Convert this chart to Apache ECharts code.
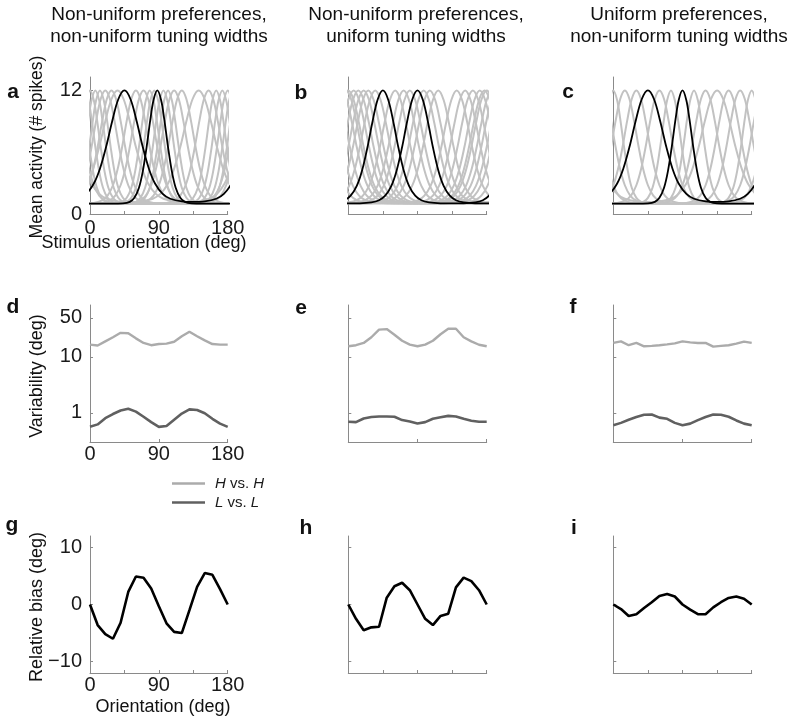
<!DOCTYPE html>
<html><head><meta charset="utf-8">
<script src="https://cdn.jsdelivr.net/npm/echarts@6/dist/echarts.min.js"></script>
<style>html,body{margin:0;padding:0;background:#fff}#c{width:800px;height:723px}</style>
</head><body><div id="c"></div>
<script>
// ---------------- DATA ----------------
// tuning-curve profiles (offset from preferred orientation, deg -> mean spikes)
const profNarrowOff = [0, 5, 9, 14, 19, 24, 30, 36, 45, 60, 90];
const profNarrowVal = [12, 11.05, 9.23, 6.5, 4.14, 2.55, 1.57, 1.18, 1.03, 1.0, 1.0];
const profMidOff = [0, 6, 12, 18, 24, 30, 37, 45, 55, 70, 90];
const profMidVal = [12, 11.16, 9.04, 6.5, 4.31, 2.79, 1.79, 1.29, 1.08, 1.02, 1.01];
const profUniOff = [0, 7, 14, 20, 27, 34, 42, 50, 60, 75, 90];
const profUniVal = [12, 11.07, 8.78, 6.5, 4.25, 2.73, 1.78, 1.34, 1.13, 1.04, 1.03];
const profWideOff = [0, 8, 16, 24, 32, 40, 50, 60, 75, 90];
const profWideVal = [12, 11.14, 9.0, 6.5, 4.4, 2.96, 1.95, 1.48, 1.22, 1.17];

// panel a: non-uniform preferences, non-uniform widths
const prefA  = [0, 7, 13, 20, 28, 36, 60, 70, 78, 84, 96, 102, 110, 120, 142, 155, 165, 173];
const widthA = ['N','N','N','M','M','W','M','M','N','N','N','N','M','M','W','M','N','N'];
const blackPrefA = [45, 88];
const blackWidthA = ['W','N'];
// panel b: non-uniform preferences, uniform widths
const prefB  = [0, 7, 13, 20, 26, 35, 61, 72, 80, 98, 106, 117, 141, 152, 162, 171, 177];
const blackPrefB = [45, 90];
// panel c: uniform preferences, non-uniform widths
const prefC  = [0, 15, 30, 60, 75, 105, 120, 135, 150, 165];
const widthC = ['N','M','M','M','N','N','M','W','M','M'];
const blackPrefC = [45, 90];
const blackWidthC = ['W','N'];

// variability (deg), sampled every 10 deg of orientation
const orient = [0,10,20,30,40,50,60,70,80,90,100,110,120,130,140,150,160,170,180];
const hhD = [16.6,16.0,19.0,22.5,27,26.5,21.5,17.8,16.2,17.0,17.3,18.7,23.4,28.3,23.5,19.8,17.0,16.6,16.6];
const llD = [0.56,0.62,0.80,0.95,1.10,1.18,1.05,0.85,0.68,0.56,0.58,0.75,0.97,1.15,1.12,0.98,0.78,0.64,0.56];
const hhE = [15.5,16.2,17.8,22.5,30.8,31.5,25,19.5,16.6,15.5,16.6,19.5,25.5,32,32,22.5,19,16.5,15.5];
const llE = [0.69,0.68,0.79,0.84,0.86,0.86,0.85,0.74,0.70,0.645,0.68,0.78,0.83,0.88,0.86,0.78,0.72,0.69,0.69];
const hhF = [17.8,19.0,16.2,17.8,15.5,15.8,16.2,16.8,17.5,19.0,18.2,17.8,17.8,15.3,15.8,16.2,17.3,18.8,17.8];
const llF = [0.60,0.66,0.75,0.84,0.92,0.93,0.82,0.78,0.66,0.60,0.64,0.74,0.84,0.93,0.92,0.85,0.73,0.64,0.60];
// relative bias (deg)
const biasG = [0,-3.6,-5.2,-6.0,-3.2,2.2,4.9,4.7,2.8,-0.3,-3.3,-4.8,-5.0,-1.0,3.1,5.5,5.2,2.7,0];
const biasH = [0,-2.5,-4.5,-4.0,-3.9,1.2,3.2,3.8,2.5,0,-2.5,-3.6,-2.0,-1.6,3.0,4.7,4.1,2.5,0];
const biasI = [0,-0.8,-2.0,-1.7,-0.6,0.4,1.5,1.85,1.4,0,-0.9,-1.7,-1.7,-0.5,0.4,1.15,1.4,1.0,0];

// ---------------- BUILD ----------------
const profiles = {
  N: [profNarrowOff, profNarrowVal], M: [profMidOff, profMidVal],
  U: [profUniOff, profUniVal], W: [profWideOff, profWideVal]
};
function curve(pref, key){
  const [off, val] = profiles[key];
  const o = [], v = [];
  for (let i = off.length - 1; i > 0; i--) { o.push(-off[i]); v.push(val[i]); }
  for (let i = 0; i < off.length; i++) { o.push(off[i]); v.push(val[i]); }
  const pts = [];
  for (const s of [-180, 0, 180]) {
    for (let i = 0; i < o.length; i++) {
      const x = pref + s + o[i];
      if (pts.length && Math.abs(pts[pts.length-1][0] - x) < 1e-9) continue;
      if (x < -95 || x > 275) continue;
      pts.push([x, v[i]]);
    }
  }
  return pts;
}
const pair = (ys) => orient.map((x, i) => [x, ys[i]]);

const FONT = 'Liberation Sans, Arial, Helvetica, sans-serif';
const AX = '#8a8a8a';
const colL = [90, 348.3, 613.3];
const colW = [137.7, 138.4, 138.4];
const rowT = [77, 305, 536];
const H = 137;

const grids = [], xAxes = [], yAxes = [], series = [];
let gi = 0;
function addGrid(r, c){
  grids.push({left: colL[c], top: rowT[r], width: colW[c], height: H, outerBoundsMode: 'none', containLabel: false});
  return gi++;
}
const lblStyle = {fontFamily: FONT, fontSize: 20, color: '#1a1a1a'};
const xLine = {onZero: false, lineStyle: {color: AX, width: 1}};

// row 1
for (let c = 0; c < 3; c++) {
  const g = addGrid(0, c);
  xAxes.push({gridIndex: g, type: 'value', min: 0, max: 180,
    axisLine: xLine,
    axisTick: {show: true, inside: true, length: 3, lineStyle: {color: AX}, customValues: [0,45,90,135,180]},
    axisLabel: Object.assign({show: c === 0, margin: 4, customValues: [0,90,180]}, lblStyle),
    splitLine: {show: false}});
  yAxes.push({gridIndex: g, type: 'value', min: 0, max: 13.3,
    axisLine: {show: true, onZero: false, lineStyle: {color: AX, width: 1}},
    axisTick: {show: c === 0, inside: true, length: 3, lineStyle: {color: AX}, customValues: [0,12]},
    axisLabel: Object.assign({show: c === 0, margin: 8, customValues: [0,12]}, lblStyle),
    splitLine: {show: false}});
  const prefs = [prefA, prefB, prefC][c];
  const widths = [widthA, null, widthC][c];
  prefs.forEach((p, i) => {
    series.push({type: 'line', xAxisIndex: g, yAxisIndex: g, data: curve(p, widths ? widths[i] : 'U'),
      smooth: 0.35, symbol: 'none', silent: true, clip: true,
      lineStyle: {color: '#c2c2c2', width: 2}, z: 2});
  });
  const bp = [blackPrefA, blackPrefB, blackPrefC][c];
  const bw = [blackWidthA, ['U','U'], blackWidthC][c];
  bp.forEach((p, i) => {
    series.push({type: 'line', xAxisIndex: g, yAxisIndex: g, data: curve(p, bw[i]),
      smooth: 0.35, symbol: 'none', silent: true, clip: true,
      lineStyle: {color: '#000', width: 1.8}, z: 5});
  });
}
// row 2
const hh = [hhD, hhE, hhF], ll = [llD, llE, llF];
for (let c = 0; c < 3; c++) {
  const g = addGrid(1, c);
  xAxes.push({gridIndex: g, type: 'value', min: 0, max: 180,
    axisLine: xLine,
    axisTick: {show: true, inside: true, length: 3, lineStyle: {color: AX}, customValues: [0,90,180]},
    axisLabel: Object.assign({show: c === 0, margin: 2, customValues: [0,90,180]}, lblStyle),
    splitLine: {show: false}});
  yAxes.push({gridIndex: g, type: 'log', logBase: 10, min: 0.3, max: 85,
    axisLine: {show: true, onZero: false, lineStyle: {color: AX, width: 1}},
    axisTick: {show: true, inside: true, length: 3, lineStyle: {color: AX}, customValues: [1,10,50]},
    axisLabel: Object.assign({show: c === 0, margin: 8, customValues: [1,10,50]}, lblStyle),
    minorTick: {show: false}, splitLine: {show: false}});
  series.push({name: 'H vs. H', type: 'line', xAxisIndex: g, yAxisIndex: g, data: pair(hh[c]),
    symbol: 'none', silent: true, lineStyle: {color: '#ababab', width: 2.4}, itemStyle: {color: '#ababab'}});
  series.push({name: 'L vs. L', type: 'line', xAxisIndex: g, yAxisIndex: g, data: pair(ll[c]),
    symbol: 'none', silent: true, lineStyle: {color: '#606060', width: 2.6}, itemStyle: {color: '#606060'}});
}
// row 3
const bias = [biasG, biasH, biasI];
for (let c = 0; c < 3; c++) {
  const g = addGrid(2, c);
  xAxes.push({gridIndex: g, type: 'value', min: 0, max: 180,
    axisLine: xLine,
    axisTick: {show: true, inside: true, length: 3, lineStyle: {color: AX}, customValues: [0,45,90,135,180]},
    axisLabel: Object.assign({show: c === 0, margin: 2, customValues: [0,90,180]}, lblStyle),
    splitLine: {show: false}});
  yAxes.push({gridIndex: g, type: 'value', min: -12, max: 12,
    axisLine: {show: true, onZero: false, lineStyle: {color: AX, width: 1}},
    axisTick: {show: true, inside: true, length: 3, lineStyle: {color: AX}, customValues: [-10,0,10]},
    axisLabel: Object.assign({show: c === 0, margin: 8, customValues: [-10,0,10],
      formatter: v => String(v).replace('-', '\u2212')}, lblStyle),
    splitLine: {show: false}});
  series.push({type: 'line', xAxisIndex: g, yAxisIndex: g, data: pair(bias[c]),
    symbol: 'none', silent: true, lineStyle: {color: '#000', width: 2.6}});
}

const txt = (x, y, s, extra) => Object.assign({type: 'text', x: x, y: y,
  style: Object.assign({text: s, fill: '#111', font: '19px ' + FONT, textAlign: 'center', textVerticalAlign: 'middle'}, extra || {})});
const bold = {font: 'bold 21px ' + FONT};
const axName = {font: '18px ' + FONT};
const graphics = [
  txt(159, 15, 'Non-uniform preferences,'), txt(159, 37, 'non-uniform tuning widths'),
  txt(416, 15, 'Non-uniform preferences,'), txt(416, 37, 'uniform tuning widths'),
  txt(679, 15, 'Uniform preferences,'), txt(679, 37, 'non-uniform tuning widths'),
  txt(13, 92, 'a', bold), txt(301, 93, 'b', bold), txt(568, 92, 'c', bold),
  txt(13, 307, 'd', bold), txt(301, 308, 'e', bold), txt(573, 307, 'f', bold),
  txt(12, 525, 'g', bold), txt(306, 528, 'h', bold), txt(574, 528, 'i', bold),
  txt(144, 243, 'Stimulus orientation (deg)', axName),
  txt(163, 707, 'Orientation (deg)', axName),
  Object.assign(txt(37, 147, 'Mean activity (# spikes)', {font: '17.5px ' + FONT}), {rotation: Math.PI / 2}),
  Object.assign(txt(37, 376, 'Variability (deg)', axName), {rotation: Math.PI / 2}),
  Object.assign(txt(37, 607, 'Relative bias (deg)', axName), {rotation: Math.PI / 2})
];

const chart = echarts.init(document.getElementById('c'), null, {renderer: 'canvas'});
chart.setOption({
  animation: false,
  backgroundColor: '#fff',
  grid: grids, xAxis: xAxes, yAxis: yAxes, series: series,
  legend: {data: ['H vs. H', 'L vs. L'], orient: 'vertical', left: 167, top: 471,
    icon: 'rect', itemWidth: 33, itemHeight: 2.6, itemGap: 4, selectedMode: false,
    formatter: n => n === 'H vs. H' ? '{i|H} vs. {i|H}' : '{i|L} vs. {i|L}',
    textStyle: {fontFamily: FONT, fontSize: 15, color: '#1a1a1a', padding: [0, 0, 0, 5],
      rich: {i: {fontFamily: FONT, fontSize: 15, fontStyle: 'italic', color: '#1a1a1a'}}}},
  graphic: graphics
});
</script></body></html>
